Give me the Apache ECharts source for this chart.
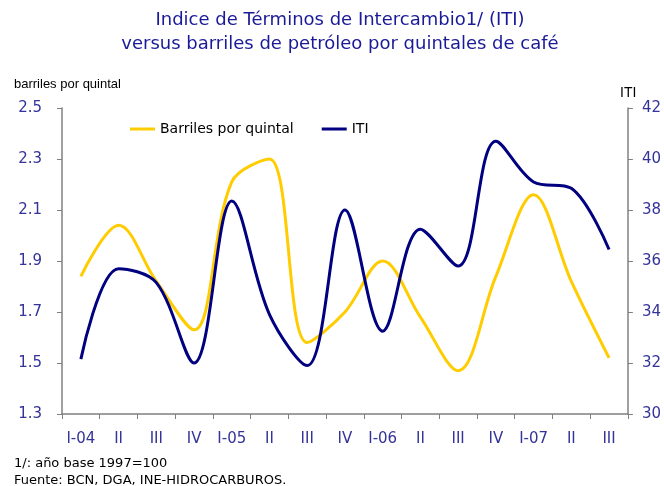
<!DOCTYPE html>
<html>
<head>
<meta charset="utf-8">
<script src="https://cdn.jsdelivr.net/npm/echarts@6/dist/echarts.min.js"></script>
<style>
  html, body { margin: 0; padding: 0; background: #fff; }
  #chart { width: 664px; height: 486px; }
</style>
</head>
<body>
<div id="chart"></div>
<script>
const categories = ['I-04', 'II', 'III', 'IV', 'I-05', 'II', 'III', 'IV', 'I-06', 'II', 'III', 'IV', 'I-07', 'II', 'III'];
const barriles = [1.84, 2.04, 1.82, 1.63, 2.21, 2.30, 1.58, 1.70, 1.90, 1.68, 1.47, 1.84, 2.16, 1.82, 1.52];
const iti = [32.15, 35.7, 35.15, 32.0, 38.35, 33.9, 31.9, 38.0, 33.25, 37.25, 35.8, 40.7, 39.1, 38.85, 36.45];

const blue = '#333399';
const axisGray = '#808080';
const font = 'DejaVu Sans';

const chart = echarts.init(document.getElementById('chart'));
chart.setOption({
  animation: false,
  title: [
    {
      text: 'Indice de Términos de Intercambio1/ (ITI)\nversus barriles de petróleo por quintales de café',
      left: 340, top: 8, textAlign: 'center', padding: 0,
      textStyle: { color: '#1a1a99', fontFamily: font, fontSize: 18, fontWeight: 'normal', lineHeight: 24 }
    },
    {
      text: 'barriles por quintal', left: 14, top: 78, padding: 0,
      textStyle: { color: '#000', fontFamily: 'Liberation Sans', fontSize: 13, fontWeight: 'normal' }
    },
    {
      text: 'ITI', left: 620, top: 86, padding: 0,
      textStyle: { color: '#000', fontFamily: 'Liberation Sans', fontSize: 14, fontWeight: 'normal' }
    },
    {
      text: '1/: año base 1997=100\nFuente: BCN, DGA, INE-HIDROCARBUROS.', left: 14, top: 455, padding: 0,
      textStyle: { color: '#000', fontFamily: font, fontSize: 13, fontWeight: 'normal', lineHeight: 17 }
    }
  ],
  legend: {
    left: 130, top: 122, itemGap: 28, itemWidth: 25, itemHeight: 3, padding: 0,
    icon: 'rect',
    textStyle: { color: '#000', fontFamily: font, fontSize: 14 },
    data: ['Barriles por quintal', 'ITI']
  },
  grid: { left: 62, right: 36, top: 108, bottom: 72 },
  xAxis: {
    type: 'category', data: categories, boundaryGap: true,
    axisLine: { lineStyle: { color: axisGray, width: 1.5 } },
    axisTick: { show: true, length: 5, lineStyle: { color: axisGray } },
    axisLabel: { color: blue, fontFamily: font, fontSize: 15, margin: 18, interval: 0 }
  },
  yAxis: [
    {
      type: 'value', min: 1.3, max: 2.5, interval: 0.2,
      axisLine: { show: true, lineStyle: { color: axisGray, width: 1.5 } },
      axisTick: { show: true, length: 5, lineStyle: { color: axisGray } },
      splitLine: { show: false },
      axisLabel: { color: blue, fontFamily: font, fontSize: 15, margin: 20, formatter: v => v.toFixed(1) }
    },
    {
      type: 'value', min: 30, max: 42, interval: 2, position: 'right',
      axisLine: { show: true, lineStyle: { color: axisGray, width: 1.5 } },
      axisTick: { show: true, length: 5, lineStyle: { color: axisGray } },
      splitLine: { show: false },
      axisLabel: { color: blue, fontFamily: font, fontSize: 15, margin: 14 }
    }
  ],
  series: [
    {
      name: 'Barriles por quintal', type: 'line', yAxisIndex: 0, data: barriles,
      smooth: 0.35, showSymbol: false, symbol: 'none',
      lineStyle: { color: '#FFCC00', width: 3 }, itemStyle: { color: '#FFCC00' }
    },
    {
      name: 'ITI', type: 'line', yAxisIndex: 1, data: iti,
      smooth: 0.35, showSymbol: false, symbol: 'none',
      lineStyle: { color: '#000080', width: 3 }, itemStyle: { color: '#000080' }
    }
  ]
});
</script>
</body>
</html>
